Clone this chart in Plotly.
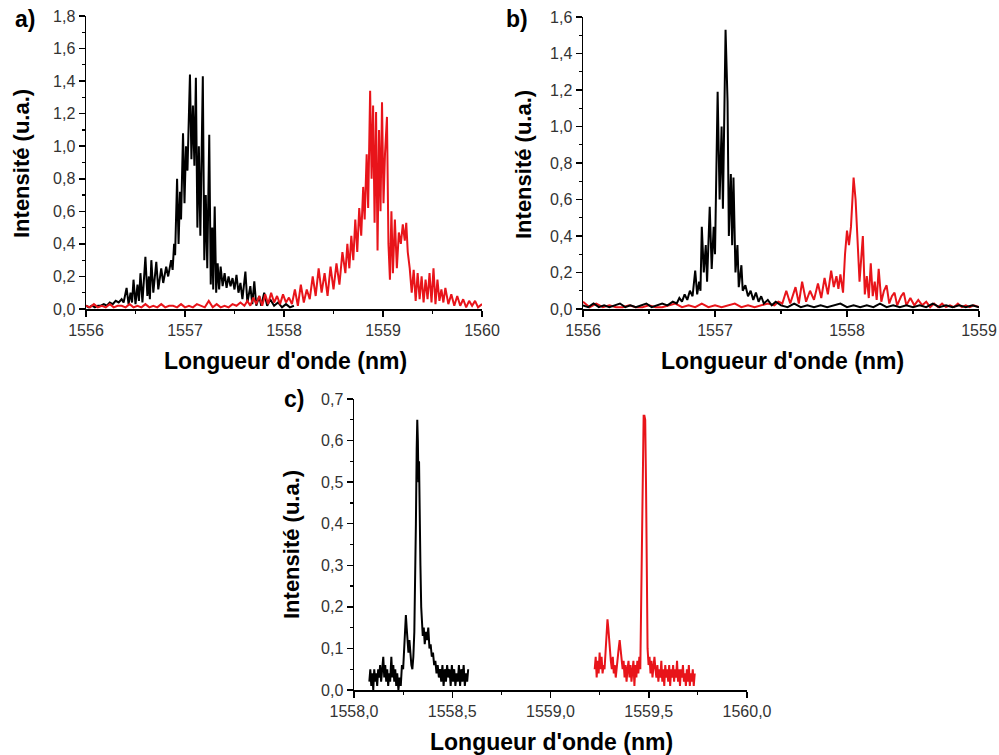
import plotly.graph_objects as go

# ---------------- DATA ----------------
# Panel a)
a_black_x = [1556.00, 1556.03, 1556.06, 1556.09, 1556.12, 1556.15, 1556.18, 1556.21, 1556.24, 1556.27,
             1556.30, 1556.33, 1556.36, 1556.38, 1556.41, 1556.43, 1556.45, 1556.465, 1556.48, 1556.50,
             1556.52, 1556.535, 1556.55, 1556.57, 1556.60, 1556.62, 1556.635, 1556.645, 1556.66, 1556.68,
             1556.71, 1556.73, 1556.76, 1556.78, 1556.81, 1556.83, 1556.86, 1556.875, 1556.89, 1556.90,
             1556.92, 1556.935, 1556.95, 1556.96, 1556.98, 1556.995, 1557.01, 1557.025, 1557.05, 1557.065,
             1557.08, 1557.095, 1557.11, 1557.125, 1557.14, 1557.155, 1557.18, 1557.195, 1557.21, 1557.225,
             1557.245, 1557.26, 1557.275, 1557.285, 1557.30, 1557.315, 1557.33, 1557.345, 1557.36, 1557.38,
             1557.40, 1557.42, 1557.44, 1557.46, 1557.48, 1557.50, 1557.52, 1557.54, 1557.56, 1557.58,
             1557.61, 1557.63, 1557.66, 1557.68, 1557.70, 1557.72, 1557.75, 1557.77, 1557.80, 1557.83,
             1557.86, 1557.90, 1557.94, 1557.98, 1558.02, 1558.06, 1558.10]
a_black_y = [0.02, 0.01, 0.02, 0.01, 0.02, 0.02, 0.03, 0.02, 0.04, 0.03,
             0.05, 0.04, 0.06, 0.04, 0.13, 0.03, 0.10, 0.04, 0.18, 0.03,
             0.15, 0.05, 0.22, 0.04, 0.32, 0.08, 0.20, 0.06, 0.30, 0.10,
             0.29, 0.12, 0.25, 0.16, 0.26, 0.20, 0.30, 0.24, 0.40, 0.33,
             0.80, 0.40, 0.72, 0.55, 1.08, 0.65, 1.00, 0.85, 1.44, 0.92,
             1.25, 0.88, 1.42, 0.50, 1.00, 0.45, 1.43, 0.30, 0.70, 0.25,
             1.07, 0.15, 0.50, 0.12, 0.63, 0.10, 0.28, 0.12, 0.26, 0.14,
             0.22, 0.13, 0.20, 0.14, 0.19, 0.12, 0.21, 0.10, 0.16, 0.06,
             0.23, 0.04, 0.14, 0.03, 0.17, 0.02, 0.08, 0.02, 0.10, 0.02,
             0.06, 0.02, 0.04, 0.01, 0.03, 0.01, 0.02]

a_red_x = [1556.00, 1556.04, 1556.08, 1556.12, 1556.16, 1556.20, 1556.24, 1556.28, 1556.32, 1556.36,
           1556.40, 1556.44, 1556.48, 1556.52, 1556.56, 1556.60, 1556.64, 1556.68, 1556.72, 1556.76,
           1556.80, 1556.84, 1556.88, 1556.92, 1556.96, 1557.00, 1557.04, 1557.08, 1557.12, 1557.16,
           1557.20, 1557.24, 1557.28, 1557.32, 1557.36, 1557.40, 1557.44, 1557.48, 1557.52, 1557.56,
           1557.60,
           1557.63, 1557.66, 1557.69, 1557.72, 1557.75, 1557.78, 1557.81, 1557.84, 1557.87, 1557.90,
           1557.93, 1557.96, 1557.99, 1558.02, 1558.05, 1558.08, 1558.11, 1558.14, 1558.17, 1558.20,
           1558.23, 1558.26, 1558.29, 1558.32, 1558.35, 1558.38, 1558.41, 1558.44, 1558.47, 1558.50,
           1558.53, 1558.56, 1558.59, 1558.62,
           1558.64, 1558.66, 1558.68, 1558.70, 1558.72, 1558.74, 1558.76, 1558.78, 1558.80,
           1558.815, 1558.835, 1558.85, 1558.87, 1558.885, 1558.90, 1558.915, 1558.93, 1558.945, 1558.96,
           1558.975, 1558.99, 1559.005, 1559.02,
           1559.04, 1559.055, 1559.07, 1559.085, 1559.10,
           1559.12, 1559.14, 1559.16, 1559.18, 1559.20, 1559.22, 1559.235, 1559.25,
           1559.27, 1559.29, 1559.31, 1559.33, 1559.35, 1559.37, 1559.39, 1559.41, 1559.43, 1559.45,
           1559.47, 1559.49, 1559.51, 1559.53, 1559.55, 1559.57, 1559.59, 1559.61, 1559.63,
           1559.66, 1559.69, 1559.72, 1559.75, 1559.78, 1559.81, 1559.84, 1559.87, 1559.90, 1559.93,
           1559.96, 1560.00]
a_red_y = [0.02, 0.01, 0.03, 0.01, 0.02, 0.01, 0.03, 0.01, 0.02, 0.02,
           0.01, 0.03, 0.01, 0.02, 0.01, 0.03, 0.01, 0.02, 0.01, 0.03,
           0.01, 0.02, 0.02, 0.01, 0.03, 0.01, 0.02, 0.01, 0.03, 0.02,
           0.01, 0.05, 0.01, 0.03, 0.01, 0.02, 0.01, 0.03, 0.02, 0.04,
           0.02,
           0.05, 0.02, 0.07, 0.03, 0.08, 0.02, 0.09, 0.03, 0.10, 0.04,
           0.08, 0.03, 0.09, 0.04, 0.07, 0.03, 0.12, 0.02, 0.15, 0.04,
           0.12, 0.06, 0.20, 0.08, 0.25, 0.10, 0.22, 0.08, 0.26, 0.12,
           0.28, 0.15, 0.35, 0.22,
           0.40, 0.25, 0.45, 0.30, 0.55, 0.35, 0.62, 0.45, 0.75,
           0.55, 0.95, 0.62, 1.34, 0.80, 1.25, 0.53, 1.21, 0.36, 1.10,
           0.60, 1.27, 0.65, 0.95,
           1.18, 0.40, 0.18, 0.60, 0.22,
           0.55, 0.25, 0.47, 0.40, 0.52, 0.42, 0.53, 0.35,
           0.25, 0.10, 0.24, 0.05, 0.22, 0.06, 0.20, 0.04, 0.18, 0.06,
           0.22, 0.04, 0.25, 0.03, 0.18, 0.05, 0.12, 0.04, 0.13,
           0.03, 0.09, 0.02, 0.08, 0.02, 0.06, 0.01, 0.05, 0.02, 0.05,
           0.01, 0.03]

# Panel b)
b_black_x = [1556.00, 1556.04, 1556.08, 1556.12, 1556.16, 1556.20, 1556.24, 1556.28, 1556.32, 1556.36,
             1556.40, 1556.44, 1556.48, 1556.52, 1556.56, 1556.60, 1556.64, 1556.68,
             1556.71, 1556.73, 1556.75, 1556.77, 1556.79, 1556.81, 1556.83, 1556.85, 1556.865, 1556.88,
             1556.89, 1556.90, 1556.915, 1556.93, 1556.94, 1556.96, 1556.975, 1556.99, 1557.00, 1557.02,
             1557.035, 1557.05, 1557.06, 1557.08, 1557.095, 1557.105, 1557.12, 1557.13, 1557.14, 1557.155,
             1557.17, 1557.18, 1557.20, 1557.21, 1557.23, 1557.25, 1557.27, 1557.29, 1557.31, 1557.33,
             1557.35, 1557.37, 1557.40, 1557.43, 1557.46,
             1557.50, 1557.55, 1557.60, 1557.65, 1557.70, 1557.75, 1557.80, 1557.85, 1557.90, 1557.95,
             1558.00, 1558.05, 1558.10, 1558.15, 1558.20, 1558.25, 1558.30, 1558.35, 1558.40, 1558.45,
             1558.50, 1558.55, 1558.60, 1558.65, 1558.70, 1558.75, 1558.80, 1558.85, 1558.90, 1558.95,
             1559.00]
b_black_y = [0.02, 0.01, 0.03, 0.01, 0.02, 0.01, 0.02, 0.03, 0.01, 0.02,
             0.01, 0.02, 0.03, 0.01, 0.02, 0.03, 0.02, 0.04,
             0.03, 0.06, 0.04, 0.08, 0.05, 0.10, 0.07, 0.21, 0.08, 0.15,
             0.10, 0.45, 0.20, 0.35, 0.15, 0.56, 0.22, 0.45, 0.30, 1.19,
             0.60, 1.00, 0.55, 1.53, 1.14, 0.40, 0.74, 0.35, 0.72, 0.20,
             0.35, 0.12, 0.24, 0.10, 0.13, 0.07, 0.10, 0.05, 0.09, 0.04,
             0.07, 0.03, 0.05, 0.02, 0.04,
             0.02, 0.01, 0.03, 0.01, 0.02, 0.01, 0.02, 0.01, 0.02, 0.03,
             0.01, 0.02, 0.01, 0.02, 0.01, 0.03, 0.01, 0.02, 0.01, 0.02,
             0.01, 0.02, 0.01, 0.03, 0.01, 0.02, 0.01, 0.02, 0.01, 0.02,
             0.01]

b_red_x = [1556.00, 1556.05, 1556.10, 1556.15, 1556.20, 1556.25, 1556.30, 1556.35, 1556.40, 1556.45,
           1556.50, 1556.55, 1556.60, 1556.65, 1556.70, 1556.75, 1556.80, 1556.85, 1556.90, 1556.95,
           1557.00, 1557.05, 1557.10, 1557.15, 1557.20, 1557.25, 1557.30, 1557.35, 1557.40, 1557.45,
           1557.48, 1557.51, 1557.54, 1557.57, 1557.61, 1557.635, 1557.66, 1557.69, 1557.72, 1557.75,
           1557.78, 1557.805, 1557.83, 1557.855, 1557.88, 1557.90, 1557.92, 1557.935, 1557.95, 1557.97,
           1557.985, 1558.00, 1558.015, 1558.03, 1558.05, 1558.065, 1558.08, 1558.095, 1558.11, 1558.12,
           1558.135, 1558.15, 1558.165, 1558.18, 1558.195, 1558.21, 1558.225, 1558.24, 1558.26, 1558.28,
           1558.30, 1558.32, 1558.34, 1558.36, 1558.38, 1558.41, 1558.43, 1558.45, 1558.48, 1558.51,
           1558.54, 1558.57, 1558.60, 1558.63, 1558.66, 1558.69, 1558.72, 1558.75, 1558.78, 1558.81,
           1558.84, 1558.87, 1558.90, 1558.93, 1558.96, 1559.00]
b_red_y = [0.04, 0.01, 0.03, 0.01, 0.02, 0.01, 0.01, 0.02, 0.01, 0.01,
           0.02, 0.01, 0.01, 0.02, 0.03, 0.01, 0.02, 0.01, 0.03, 0.01,
           0.02, 0.01, 0.02, 0.03, 0.01, 0.02, 0.01, 0.02, 0.03, 0.02,
           0.04, 0.03, 0.10, 0.03, 0.12, 0.03, 0.15, 0.04, 0.10, 0.05,
           0.14, 0.06, 0.17, 0.08, 0.21, 0.12, 0.18, 0.11, 0.19, 0.09,
           0.30, 0.43, 0.35, 0.45, 0.72, 0.60, 0.38, 0.15, 0.30, 0.40,
           0.08, 0.18, 0.06, 0.25, 0.07, 0.15, 0.05, 0.22, 0.04, 0.10,
           0.13, 0.03, 0.07, 0.09, 0.02, 0.07, 0.09, 0.02, 0.06, 0.02,
           0.05, 0.02, 0.04, 0.01, 0.03, 0.01, 0.03, 0.01, 0.02, 0.01,
           0.03, 0.01, 0.02, 0.01, 0.02, 0.01]

# Panel c)
c_black_x = [1558.078, 1558.083, 1558.088, 1558.093, 1558.098, 1558.103, 1558.108, 1558.113, 1558.118, 1558.123,
             1558.128, 1558.133, 1558.138, 1558.143, 1558.149, 1558.154, 1558.159, 1558.164, 1558.169, 1558.174,
             1558.179, 1558.184, 1558.190, 1558.195, 1558.200, 1558.205, 1558.210, 1558.215, 1558.220, 1558.226,
             1558.232, 1558.238, 1558.244, 1558.250, 1558.256, 1558.260, 1558.264, 1558.268, 1558.272, 1558.277,
             1558.282, 1558.287, 1558.292, 1558.297, 1558.302, 1558.307, 1558.311, 1558.315, 1558.319, 1558.322,
             1558.325, 1558.328, 1558.331, 1558.334, 1558.338, 1558.342, 1558.346, 1558.350, 1558.355, 1558.360,
             1558.366, 1558.372, 1558.378, 1558.384, 1558.390, 1558.396, 1558.402, 1558.408, 1558.414, 1558.420,
             1558.426, 1558.432, 1558.438, 1558.444, 1558.450, 1558.456, 1558.462, 1558.468, 1558.474, 1558.480,
             1558.486, 1558.492, 1558.498, 1558.504, 1558.510, 1558.516, 1558.522, 1558.528, 1558.534, 1558.540,
             1558.546, 1558.552, 1558.558, 1558.564, 1558.570, 1558.576, 1558.581]
c_black_y = [0.02, 0.05, 0.01, 0.04, 0.00, 0.05, 0.02, 0.04, 0.01, 0.05,
             0.03, 0.06, 0.02, 0.05, 0.08, 0.03, 0.06, 0.02, 0.05, 0.01,
             0.04, 0.02, 0.08, 0.03, 0.06, 0.02, 0.05, 0.01, 0.04, 0.00,
             0.03, 0.01, 0.06, 0.05, 0.10, 0.14, 0.18, 0.15, 0.11, 0.09,
             0.12, 0.08, 0.06, 0.05, 0.08, 0.14, 0.23, 0.40, 0.58, 0.65,
             0.60, 0.50, 0.55, 0.40, 0.30, 0.20, 0.16, 0.13, 0.15, 0.11,
             0.14, 0.12, 0.15, 0.10, 0.11, 0.08, 0.09, 0.06, 0.07, 0.04,
             0.06, 0.03, 0.05, 0.02, 0.06, 0.01, 0.05, 0.02, 0.06, 0.03,
             0.05, 0.01, 0.06, 0.02, 0.05, 0.01, 0.04, 0.02, 0.06, 0.01,
             0.05, 0.02, 0.06, 0.01, 0.04, 0.02, 0.05]

c_red_x = [1559.225, 1559.230, 1559.235, 1559.240, 1559.245, 1559.250, 1559.255, 1559.260, 1559.265, 1559.270,
           1559.275, 1559.280, 1559.285, 1559.290, 1559.294, 1559.298, 1559.302, 1559.307, 1559.312, 1559.317,
           1559.322, 1559.327, 1559.332, 1559.337, 1559.342, 1559.347, 1559.352, 1559.357, 1559.362, 1559.367,
           1559.372, 1559.377, 1559.382, 1559.387, 1559.392, 1559.397, 1559.402, 1559.407, 1559.412, 1559.417,
           1559.422, 1559.427, 1559.432, 1559.437, 1559.442, 1559.447, 1559.452, 1559.457, 1559.462, 1559.466,
           1559.470, 1559.474, 1559.478, 1559.482, 1559.486, 1559.490, 1559.494, 1559.499, 1559.504, 1559.509,
           1559.514, 1559.519, 1559.524, 1559.529, 1559.534, 1559.539, 1559.544, 1559.549, 1559.554, 1559.559,
           1559.564, 1559.569, 1559.574, 1559.579, 1559.584, 1559.589, 1559.594, 1559.599, 1559.604, 1559.609,
           1559.614, 1559.619, 1559.624, 1559.629, 1559.634, 1559.639, 1559.644, 1559.649, 1559.654, 1559.659,
           1559.664, 1559.669, 1559.674, 1559.679, 1559.684, 1559.689, 1559.694, 1559.699, 1559.704, 1559.709,
           1559.714, 1559.719, 1559.724, 1559.729, 1559.734]
c_red_y = [0.05, 0.08, 0.03, 0.07, 0.04, 0.09, 0.05, 0.08, 0.04, 0.06,
           0.05, 0.09, 0.12, 0.17, 0.15, 0.12, 0.09, 0.07, 0.05, 0.08,
           0.04, 0.06, 0.03, 0.06, 0.08, 0.10, 0.12, 0.10, 0.07, 0.05,
           0.07, 0.03, 0.06, 0.02, 0.05, 0.07, 0.03, 0.06, 0.02, 0.05,
           0.07, 0.01, 0.06, 0.03, 0.07, 0.04, 0.08, 0.05, 0.24, 0.46,
           0.60, 0.66, 0.66, 0.65, 0.50, 0.25, 0.10, 0.06, 0.08, 0.04,
           0.07, 0.03, 0.06, 0.08, 0.05, 0.03, 0.06, 0.02, 0.05, 0.03,
           0.07, 0.02, 0.05, 0.01, 0.06, 0.03, 0.05, 0.02, 0.06, 0.01,
           0.05, 0.03, 0.06, 0.02, 0.05, 0.03, 0.07, 0.02, 0.05, 0.01,
           0.05, 0.03, 0.06, 0.02, 0.04, 0.01, 0.05, 0.02, 0.06, 0.01,
           0.04, 0.02, 0.05, 0.01, 0.04]

for xs, ys in [(a_black_x, a_black_y), (a_red_x, a_red_y), (b_black_x, b_black_y),
               (b_red_x, b_red_y), (c_black_x, c_black_y), (c_red_x, c_red_y)]:
    assert len(xs) == len(ys), (len(xs), len(ys))

panel_labels = ["a)", "b)", "c)"]
x_title = "Longueur d'onde (nm)"
y_title = "Intensité (u.a.)"

# ---------------- FIGURE ----------------
W, H = 999, 755
BLACK = "#000000"
RED = "#e8141a"
FONT = "Liberation Sans, Arial, sans-serif"

fig = go.Figure()
lw = 2.0
fig.add_trace(go.Scatter(x=a_black_x, y=a_black_y, mode="lines", line=dict(color=BLACK, width=lw), xaxis="x", yaxis="y"))
fig.add_trace(go.Scatter(x=a_red_x, y=a_red_y, mode="lines", line=dict(color=RED, width=lw), xaxis="x", yaxis="y"))
fig.add_trace(go.Scatter(x=b_red_x, y=b_red_y, mode="lines", line=dict(color=RED, width=lw), xaxis="x2", yaxis="y2"))
fig.add_trace(go.Scatter(x=b_black_x, y=b_black_y, mode="lines", line=dict(color=BLACK, width=lw), xaxis="x2", yaxis="y2"))
fig.add_trace(go.Scatter(x=c_black_x, y=c_black_y, mode="lines", line=dict(color=BLACK, width=lw), xaxis="x3", yaxis="y3"))
fig.add_trace(go.Scatter(x=c_red_x, y=c_red_y, mode="lines", line=dict(color=RED, width=lw), xaxis="x3", yaxis="y3"))


def px_x(p):
    return p / W


def px_y(p):
    return 1 - p / H


tickfont = dict(family=FONT, size=16, color="#333333")
minor_style = dict(ticks="outside", ticklen=3, tickcolor=BLACK, tickwidth=1.2)


def axis_common(**kw):
    d = dict(showline=True, linecolor=BLACK, linewidth=1.5, ticks="outside", ticklen=6,
             tickwidth=1.5, tickcolor=BLACK, showgrid=False, zeroline=False,
             tickfont=tickfont, fixedrange=True, automargin=False, ticklabeloverflow="allow")
    d.update(kw)
    return d


layout = dict(
    template="none",
    width=W, height=H, margin=dict(l=0, r=0, t=0, b=0, pad=0, autoexpand=False),
    paper_bgcolor="white", plot_bgcolor="white", showlegend=False,
    separators=", ",
    xaxis=axis_common(domain=[px_x(86), px_x(482)], range=[1556, 1560], tick0=1556, dtick=1,
                      anchor="y", minor=dict(dtick=0.5, **minor_style)),
    yaxis=axis_common(domain=[px_y(309), px_y(16)], range=[0, 1.8], tick0=0, dtick=0.2, tickformat=".1f",
                      anchor="x", minor=dict(dtick=0.1, **minor_style)),
    xaxis2=axis_common(domain=[px_x(583), px_x(979)], range=[1556, 1559], tick0=1556, dtick=1,
                       anchor="y2", minor=dict(dtick=0.5, **minor_style)),
    yaxis2=axis_common(domain=[px_y(309), px_y(17)], range=[0, 1.6], tick0=0, dtick=0.2, tickformat=".1f",
                       anchor="x2", minor=dict(dtick=0.1, **minor_style)),
    xaxis3=axis_common(domain=[px_x(354), px_x(747)], range=[1558, 1560], tick0=1558, dtick=0.5, tickformat=".1f",
                       anchor="y3", minor=dict(dtick=0.25, **minor_style)),
    yaxis3=axis_common(domain=[px_y(690), px_y(399)], range=[0, 0.7], tick0=0, dtick=0.1, tickformat=".1f",
                       anchor="x3", minor=dict(dtick=0.05, **minor_style)),
)
fig.update_layout(**layout)

title_font = dict(family=FONT, size=23, color=BLACK)
annotations = []
# x titles
for cx, cy in [(285, 361), (782, 361), (551, 742)]:
    annotations.append(dict(text="<b>%s</b>" % x_title, x=px_x(cx), y=px_y(cy), xref="paper", yref="paper",
                            xanchor="center", yanchor="middle", showarrow=False, font=title_font))
# y titles
for cx, cy in [(22, 164), (523, 165), (291, 545)]:
    annotations.append(dict(text="<b>%s</b>" % y_title, x=px_x(cx), y=px_y(cy), xref="paper", yref="paper",
                            xanchor="center", yanchor="middle", showarrow=False, textangle=-90,
                            font=dict(family=FONT, size=22, color=BLACK)))
# panel labels
for lab, (cx, cy) in zip(panel_labels, [(25, 19), (517, 19), (294, 399)]):
    annotations.append(dict(text="<b>%s</b>" % lab, x=px_x(cx), y=px_y(cy), xref="paper", yref="paper",
                            xanchor="center", yanchor="middle", showarrow=False,
                            font=dict(family=FONT, size=23, color=BLACK)))
fig.update_layout(annotations=annotations)

# remove the default page margin so the 999x755 figure fills the window exactly
fig.write_html("out.html",
               config={"displayModeBar": False, "staticPlot": True},
               post_script="document.body.style.margin='0';document.body.style.overflow='hidden';")
